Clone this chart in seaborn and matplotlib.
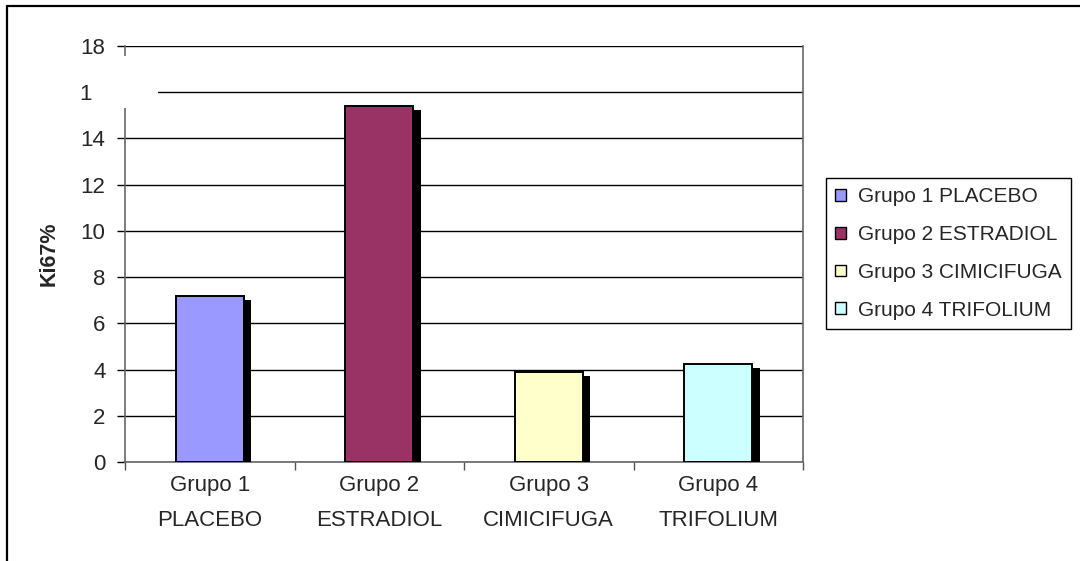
import matplotlib
matplotlib.use("Agg")
import matplotlib.pyplot as plt
import matplotlib.patheffects as pe
from matplotlib.patches import Patch, Rectangle
from matplotlib.lines import Line2D
from matplotlib.transforms import ScaledTranslation
import seaborn as sns
import pandas as pd

# Ki67 proliferation index by treatment group
groups = ["Grupo 1 PLACEBO", "Grupo 2 ESTRADIOL", "Grupo 3 CIMICIFUGA", "Grupo 4 TRIFOLIUM"]
tick_labels = ["Grupo 1\nPLACEBO", "Grupo 2\nESTRADIOL", "Grupo 3\nCIMICIFUGA", "Grupo 4\nTRIFOLIUM"]
ki67 = [7.2, 15.4, 3.9, 4.25]
colors = ["#9999FF", "#993366", "#FFFFCC", "#CCFFFF"]
y_ticks = [0, 2, 4, 6, 8, 10, 12, 14, 16, 18]
y_tick_labels = ["0", "2", "4", "6", "8", "10", "12", "14", "1", "18"]

sns.set_theme(style="white")
plt.rcParams["font.family"] = ["Liberation Sans", "DejaVu Sans"]
plt.rcParams["font.size"] = 16

W, H = 1080, 561
fig = plt.figure(figsize=(W / 100, H / 100), dpi=100)
ax = fig.add_axes([125 / W, 1 - 462 / H, (803 - 125) / W, (462 - 46) / H])

df = pd.DataFrame({"grupo": groups, "ki67": ki67})
sns.barplot(data=df, x="grupo", y="ki67", hue="grupo", palette=colors,
            width=0.4, edgecolor="black", linewidth=1.4, legend=False,
            saturation=1, ax=ax, zorder=3)

shadow = [pe.SimplePatchShadow(offset=(5.5, -3), shadow_rgbFace="black", alpha=1.0),
          pe.Normal()]
for bar in ax.patches:
    bar.set_path_effects(shadow)

ax.set_xlim(-0.5, 3.5)
ax.set_ylim(0, 18)
ax.set_yticks(y_ticks)
ax.set_yticklabels(y_tick_labels, fontsize=16)
ax.yaxis.grid(True, color="black", linewidth=1.0)
ax.set_axisbelow(True)

# category boundaries carry the tick marks, centres carry the labels
ax.set_xticks([-0.5, 0.5, 1.5, 2.5, 3.5])
ax.set_xticklabels([])
ax.set_xticks(range(len(tick_labels)), minor=True)
ax.set_xticklabels(tick_labels, minor=True, fontsize=16, linespacing=1.9)
ax.tick_params(axis="x", which="major", direction="out", length=6, width=1,
               color="#555555", bottom=True)
ax.tick_params(axis="x", which="minor", length=0, pad=9)
ax.tick_params(axis="y", direction="out", length=6, width=1, color="black",
               left=True, pad=8)

for side in ["left", "bottom", "right"]:
    ax.spines[side].set_visible(True)
    ax.spines[side].set_color("#666666")
    ax.spines[side].set_linewidth(1.2)
ax.spines["top"].set_visible(False)

ax.set_xlabel("")
ax.set_ylabel("Ki67%", fontsize=15.5, fontweight="bold", va="center")
ax.yaxis.set_label_coords((49 - 125) / (803 - 125), 0.5)

# the "16" label row sits partly hidden behind a blank patch
lbl = ax.get_yticklabels()[8]
lbl.set_transform(lbl.get_transform() + ScaledTranslation(-14 / 100, 0, fig.dpi_scale_trans))
fig.patches.append(Rectangle((97 / W, 1 - 108 / H), (158 - 97) / W, (108 - 56) / H,
                             transform=fig.transFigure, facecolor="white",
                             edgecolor="none", zorder=10))

handles = [Patch(facecolor=c, edgecolor="black", linewidth=1.0) for c in colors]
leg = fig.legend(handles, groups, loc="upper left",
                 bbox_to_anchor=(826 / W, 1 - 178 / H), bbox_transform=fig.transFigure,
                 fontsize=15, frameon=True, fancybox=False, framealpha=1,
                 edgecolor="black", borderaxespad=0, handlelength=0.5,
                 handleheight=0.5, handletextpad=0.6, labelspacing=0.9,
                 borderpad=0.45)
leg.get_frame().set_linewidth(1.0)

# outer chart-area border (top and left edges)
fig.add_artist(Line2D([7 / W, 1], [1 - 6 / H, 1 - 6 / H], transform=fig.transFigure,
                      color="black", linewidth=1.6))
fig.add_artist(Line2D([7 / W, 7 / W], [0, 1 - 6 / H], transform=fig.transFigure,
                      color="black", linewidth=1.6))

fig.savefig("out.png", dpi=100, facecolor="white")
